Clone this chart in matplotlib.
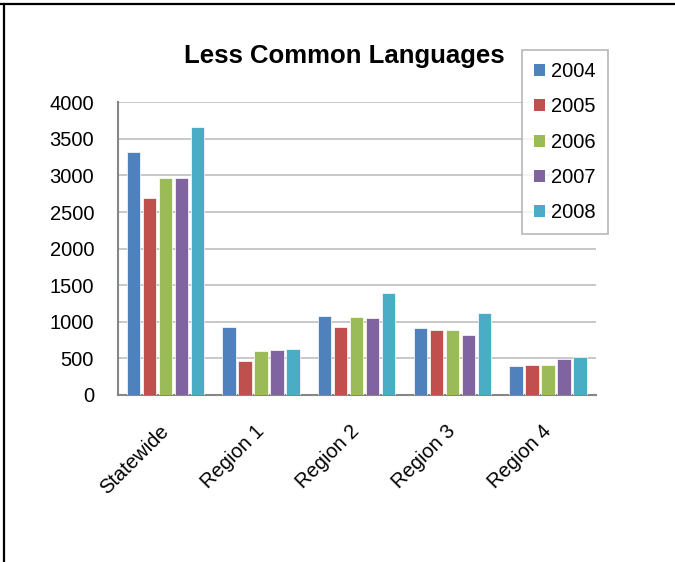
import matplotlib
matplotlib.use("Agg")
import matplotlib.pyplot as plt
import numpy as np

plt.rcParams['font.family'] = ['Liberation Sans', 'DejaVu Sans']

categories = ["Statewide", "Region 1", "Region 2", "Region 3", "Region 4"]
years = ["2004", "2005", "2006", "2007", "2008"]
values_2004 = [3320, 930, 1077, 920, 392]
values_2005 = [2690, 465, 934, 889, 410]
values_2006 = [2968, 606, 1067, 893, 415]
values_2007 = [2959, 615, 1049, 817, 492]
values_2008 = [3666, 629, 1399, 1126, 520]
series = [values_2004, values_2005, values_2006, values_2007, values_2008]
colors = ["#4F81BD", "#C0504D", "#9BBB59", "#8064A2", "#4BACC6"]
yticks = [0, 500, 1000, 1500, 2000, 2500, 3000, 3500, 4000]

fig = plt.figure(figsize=(6.75, 5.62), dpi=100)
ax = fig.add_axes([0.1744, 0.2972, 0.8825 - 0.1744, 0.818 - 0.2972])

x = np.arange(len(categories))
step = 0.167
width = 0.14
for i, (vals, col, yr) in enumerate(zip(series, colors, years)):
    ax.bar(x + (i - 2) * step, vals, width=width, color=col,
           edgecolor="white", linewidth=0.5, label=yr, zorder=3)

ax.set_xlim(-0.5, 4.5)
ax.set_ylim(0, 4000)
ax.set_yticks(yticks)
ax.set_yticklabels([str(v) for v in yticks], fontsize=14.5)
ax.yaxis.grid(True, color="#BFBFBF", linewidth=1.2, zorder=0)
ax.set_axisbelow(True)
ax.tick_params(axis="y", length=0, pad=17)
ax.tick_params(axis="x", length=0, pad=24)
ax.set_xticks(x)
ax.set_xticklabels(categories, fontsize=14.5, rotation=45, ha="right",
                   va="center", rotation_mode="anchor")
for s in ["top", "right"]:
    ax.spines[s].set_visible(False)
for s in ["left", "bottom"]:
    ax.spines[s].set_color("#868686")
    ax.spines[s].set_linewidth(1.5)

fig.text(344 / 675, 1 - 63.3 / 562, "Less Common Languages", ha="center",
         va="baseline", fontsize=18.5, fontweight="bold")

leg = fig.legend(loc="upper left", bbox_to_anchor=(522 / 675, 1 - 50 / 562),
                 fontsize=14.5, frameon=True, fancybox=False,
                 handlelength=0.55, handleheight=0.55, handletextpad=0.3,
                 labelspacing=0.81, borderpad=0.6, borderaxespad=0)
leg.get_frame().set_edgecolor("#A6A6A6")
leg.get_frame().set_linewidth(1.2)
for h in leg.legend_handles:
    h.set_edgecolor("none")

# page frame lines
fig.add_artist(plt.Line2D([0.0, 1.0], [1 - 3.8 / 562, 1 - 3.8 / 562],
                          transform=fig.transFigure, color="black", linewidth=1.6))
fig.add_artist(plt.Line2D([4 / 675, 4 / 675], [0, 1 - 3.8 / 562],
                          transform=fig.transFigure, color="black", linewidth=1.6))

fig.savefig("out.png", dpi=100)
